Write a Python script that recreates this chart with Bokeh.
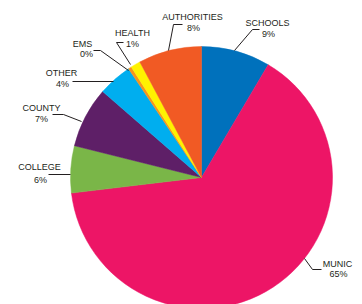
import numpy as np
from bokeh.plotting import figure
from bokeh.models import Range1d, ColumnDataSource
from bokeh.core.properties import value
from bokeh.embed import file_html
from bokeh.resources import INLINE

# ---- data ----
categories = ["SCHOOLS", "MUNIC", "COLLEGE", "COUNTY", "OTHER", "EMS", "HEALTH", "AUTHORITIES"]
shares = [8.5, 64.6, 5.8, 7.5, 4.2, 0.4, 1.2, 7.8]
pct_labels = ["9%", "65%", "6%", "7%", "4%", "0%", "1%", "8%"]
colors = ["#0071BC", "#ED1566", "#7AB648", "#5E1F67", "#00AEEF", "#F7941D", "#FFF200", "#F15A24"]

# ---- layout (pixel positions in the picture) ----
W, H = 362, 304
center = (201, 177)
radius = 131
name_pos = [(267, 22), (337, 263), (39, 166), (41, 107), (61, 72), (82, 43), (132, 32), (192, 16)]
pct_pos = [(268, 33), (338, 273), (40, 179), (41, 118), (62, 83), (86, 53), (132, 43), (193, 27)]
leaders = [
    [(234, 50), (252, 29), (259, 29)],
    [(304, 258), (312, 269), (321, 269)],
    [(48, 174), (70, 174)],
    [(52, 114), (63, 114), (81, 121)],
    [(72, 81), (113, 81)],
    [(128, 70), (100, 50), (93, 50)],
    [(130, 64), (116, 42), (123, 42)],
    [(168, 50), (173, 24), (182, 24)],
]

def fy(sy):
    return H - sy

vals = np.array(shares, dtype=float)
frac = vals / vals.sum()
cum = np.concatenate([[0], np.cumsum(frac)])
start = np.pi / 2 - 2 * np.pi * cum[:-1]
end = np.pi / 2 - 2 * np.pi * cum[1:]

p = figure(width=W, height=H, output_backend="svg", toolbar_location=None,
           x_range=Range1d(0, W), y_range=Range1d(0, H), min_border=0)
p.axis.visible = False
p.grid.visible = False
p.outline_line_color = None
p.background_fill_color = "white"
p.border_fill_color = "white"

src = ColumnDataSource(dict(start=start, end=end, color=colors))
p.wedge(x=center[0], y=fy(center[1]), radius=radius, start_angle="start", end_angle="end",
        direction="clock", fill_color="color", line_color="color", line_width=0.5, source=src)

p.multi_line(xs=[[pt[0] for pt in l] for l in leaders], ys=[[fy(pt[1]) for pt in l] for l in leaders],
             line_color="#231F20", line_width=1)

p.text(x=[q[0] for q in name_pos], y=[fy(q[1]) for q in name_pos], text=categories,
       text_font=value("Liberation Sans"), text_font_size="9px", text_color="#231F20",
       text_align="center", text_baseline="middle")
p.text(x=[q[0] for q in pct_pos], y=[fy(q[1]) for q in pct_pos], text=pct_labels,
       text_font=value("Liberation Sans"), text_font_size="9px", text_color="#231F20",
       text_align="center", text_baseline="middle")

open("out.html", "w").write(file_html(p, INLINE))
